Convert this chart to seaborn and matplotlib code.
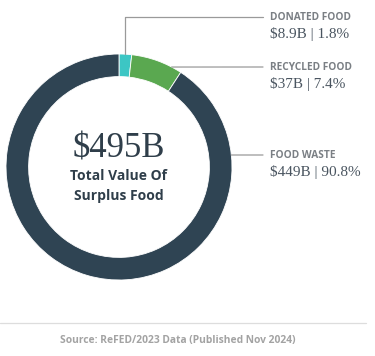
import numpy as np
import seaborn as sns
import matplotlib.pyplot as plt

# Surplus food breakdown (ReFED 2023)
categories = ['DONATED FOOD', 'RECYCLED FOOD', 'FOOD WASTE']
values_billion = [8.9, 37, 449]
value_labels = ['$8.9B', '$37B', '$449B']
pct_labels = ['1.8%', '7.4%', '90.8%']
shares = [1.8, 7.4, 90.8]
colors = ['#3cc6c4', '#5aa850', '#2f4453']
total_label = '$495B'

sns.set_theme(style='white')
plt.rcParams['font.family'] = ['Open Sans', 'DejaVu Sans']

W, H = 375, 356
fig = plt.figure(figsize=(W / 100, H / 100), dpi=100)
fig.patch.set_facecolor('white')

# donut: centre ~ (119,167) px, radius ~113 px
cx, cy, r = 119, 167, 113
ax = fig.add_axes([(cx - r) / W, (H - cy - r) / H, 2 * r / W, 2 * r / H])
wedges, _ = ax.pie(shares, colors=colors, startangle=90, counterclock=False,
                   radius=1, wedgeprops=dict(width=0.2, edgecolor='white', linewidth=0.6))
ax.set_xlim(-1, 1)
ax.set_ylim(-1, 1)
ax.set_aspect('equal')
ax.axis('off')

serif = ['Liberation Serif', 'DejaVu Serif']
dark = '#2f3e4a'
grey = '#7a7f84'
line_c = '#9a9a9a'

# centre text
ax.text(0, 0.16, total_label, ha='center', va='center', fontsize=25, family=serif, color=dark)
ax.text(0, -0.08, 'Total Value Of', ha='center', va='center', fontsize=10, weight='bold', color=dark)
ax.text(0, -0.26, 'Surplus Food', ha='center', va='center', fontsize=10, weight='bold', color=dark)

# callout lines and labels
def wedge_point(w, frac):
    ang = np.deg2rad(w.theta1 + (w.theta2 - w.theta1) * frac)
    return np.cos(ang), np.sin(ang)

label_y = [17, 67, 155]
anchors = [wedge_point(wedges[0], 0.5), wedge_point(wedges[1], 0.2), None]
for i, cat in enumerate(categories):
    ty = label_y[i]
    if i == 0:
        ax.annotate('', xy=anchors[0], xycoords='data', xytext=(263, H - ty), textcoords='figure pixels',
                    arrowprops=dict(arrowstyle='-', color=line_c, lw=0.9, shrinkA=0, shrinkB=0,
                                    connectionstyle='angle,angleA=0,angleB=90,rad=0'))
    elif i == 1:
        ax.annotate('', xy=anchors[1], xycoords='data', xytext=(263, H - ty), textcoords='figure pixels',
                    arrowprops=dict(arrowstyle='-', color=line_c, lw=0.9, shrinkA=0, shrinkB=0))
    else:
        yy = (cy - ty) / r
        ax.annotate('', xy=(np.sqrt(1 - yy ** 2), yy), xycoords='data', xytext=(263, H - ty),
                    textcoords='figure pixels',
                    arrowprops=dict(arrowstyle='-', color=line_c, lw=0.9, shrinkA=0, shrinkB=0))
    fig.text(270 / W, 1 - ty / H, cat, ha='left', va='center', fontsize=7.3, weight='bold', color=grey)
    fig.text(270 / W, 1 - (ty + 17) / H, value_labels[i] + ' | ' + pct_labels[i], ha='left', va='center',
             fontsize=11, family=serif, color='#4a5560')

# footer
fig.add_artist(plt.Line2D([0, 366 / W], [1 - 323 / H, 1 - 323 / H], color='#dddddd', lw=0.9))
fig.text(178 / W, 1 - 341 / H, 'Source: ReFED/2023 Data (Published Nov 2024)', ha='center', va='center',
         fontsize=7.4, weight='bold', color='#a3a3a3')

fig.savefig('out.png', dpi=100, facecolor='white')
